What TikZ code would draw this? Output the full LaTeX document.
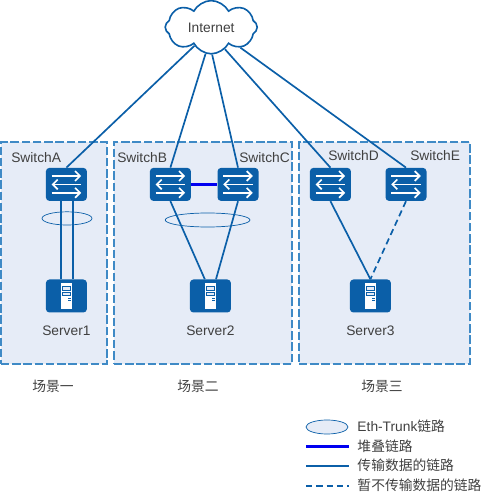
\documentclass[tikz,border=0pt]{standalone}
\usepackage{fontspec}
\setmainfont{Liberation Sans}
\newfontfamily\cjk{Noto Sans CJK SC}
\usetikzlibrary{arrows.meta,positioning,calc,shapes.symbols,shapes.geometric}
\definecolor{NetBlue}{HTML}{0B5FA8}
\definecolor{ZoneBg}{HTML}{E6ECF7}
\definecolor{ZoneEdge}{HTML}{3F8AC6}
\definecolor{StackBlue}{HTML}{0000F0}
\definecolor{TextGrey}{HTML}{404040}

\begin{document}
\begin{tikzpicture}[
  every node/.style={font=\fontsize{9.8}{11}\selectfont, text=TextGrey},
  zone/.style={rectangle, draw=ZoneEdge, fill=ZoneBg, dash pattern=on 6pt off 2pt, line width=0.8pt, inner sep=0pt},
  dev/.style={rectangle, rounded corners=2.5pt, fill=NetBlue, minimum width=1.025cm, minimum height=0.825cm, inner sep=0pt},
  trunk/.style={ellipse, draw=NetBlue, line width=0.5pt, inner sep=0pt},
  link/.style={draw=NetBlue, line width=1.2pt},
  straightlink/.style={draw=NetBlue, line width=1.45pt},
  idle/.style={link, dash pattern=on 4.5pt off 2.8pt},
  stack/.style={draw=StackBlue, line width=1.9pt},
  lbl/.style={inner sep=0pt},
]
\useasboundingbox (0,0) rectangle (12.1,12.4);

%% zones
\node[zone, minimum width=2.65cm, minimum height=5.55cm] (zoneA) at (1.35, 6.075) {};
\node[zone, minimum width=4.45cm, minimum height=5.55cm] (zoneB) at (5.075,6.075) {};
\node[zone, minimum width=4.275cm,minimum height=5.55cm] (zoneC) at (9.6125,6.075) {};

%% cloud
\node[cloud, cloud puffs=8, cloud puff arc=125, aspect=1.75, draw=NetBlue, fill=white, line width=1.15pt,
      minimum width=2.3cm, minimum height=1.33cm, inner sep=0pt] (inet) at (5.28,11.72) {};
\node[lbl] (inetl) at (5.28,11.7) {Internet};

%% switches
\node[dev] (swA) at (1.66, 7.79) {};
\node[dev] (swB) at (4.26, 7.79) {};
\node[dev] (swC) at (5.95, 7.79) {};
\node[dev] (swD) at (8.26, 7.79) {};
\node[dev] (swE) at (10.15,7.79) {};

%% servers
\node[dev] (srvA) at (1.66, 5.0) {};
\node[dev] (srvB) at (5.26, 5.0) {};
\node[dev] (srvC) at (9.26, 5.0) {};

%% icons
\foreach \n in {swA,swB,swC,swD,swE} {
  \begin{scope}[shift={(\n.center)}, white, line width=1.2pt]
    \draw[-{Straight Barb[length=3.5pt,width=7pt]}] (-0.37,0.21) -- (0.37,0.21);
    \draw[{Straight Barb[length=3.5pt,width=7pt]}-] (-0.37,0) -- (0.37,0);
    \draw[-{Straight Barb[length=3.5pt,width=7pt]}] (-0.37,-0.21) -- (0.37,-0.21);
  \end{scope}
}
\foreach \n in {srvA,srvB,srvC} {
  \begin{scope}[shift={(\n.center)}]
    \fill[white] (-0.135,-0.325) rectangle (0.135,0.325);
    \draw[NetBlue, line width=0.5pt, fill=ZoneBg] (-0.11,0.15) rectangle (0.11,0.235);
    \draw[NetBlue, line width=0.5pt, fill=ZoneBg] (-0.11,0.015) rectangle (0.11,0.1);
    \fill[NetBlue] (0.05,-0.085) rectangle (0.11,-0.06);
    \fill[NetBlue] (0.05,-0.135) rectangle (0.11,-0.11);
  \end{scope}
}

%% uplinks
\draw[link] (inet.228) -- (swA.north);
\draw[link] (inet.258) -- (swB.north);
\draw[link] (inet.272) -- (swC.north);
\draw[link] (inet.302) -- (swD.north);
\draw[link] (inet.325) -- (swE.north);

%% downlinks
\draw[straightlink] ([xshift=-0.125cm]swA.south) -- ([xshift=-0.125cm]srvA.north);
\draw[straightlink] ([xshift=0.16cm]swA.south)  -- ([xshift=0.16cm]srvA.north);
\draw[link] (swB.south) -- ([xshift=-0.14cm]srvB.north);
\draw[link] (swC.south) -- ([xshift=0.14cm]srvB.north);
\draw[link] (swD.south) -- (srvC.north);
\draw[idle] (swE.south) -- (srvC.north);
\draw[stack] (swB.east) -- (swC.west);

%% trunks
\node[trunk, minimum width=1.25cm, minimum height=0.33cm] (trkA) at (1.675,6.94) {};
\node[trunk, minimum width=2.12cm, minimum height=0.35cm] (trkB) at (5.19, 6.9) {};

%% labels
\node[lbl, anchor=west] (lblA) at (0.275,8.45) {SwitchA};
\node[lbl, anchor=west] (lblB) at (2.925,8.45) {SwitchB};
\node[lbl, anchor=west] (lblC) at (5.975,8.45) {SwitchC};
\node[lbl, anchor=west] (lblD) at (8.2,  8.5)  {SwitchD};
\node[lbl, anchor=west] (lblE) at (10.25,8.5)  {SwitchE};
\node[lbl] (lblS1) at (1.66, 4.125) {Server1};
\node[lbl] (lblS2) at (5.26, 4.125) {Server2};
\node[lbl] (lblS3) at (9.26, 4.125) {Server3};
\node[lbl] (case1) at (1.325,2.75) {\cjk 场景一};
\node[lbl] (case2) at (4.95, 2.75) {\cjk 场景二};
\node[lbl] (case3) at (9.55, 2.75) {\cjk 场景三};

%% legend
\node[ellipse, draw=NetBlue, fill=ZoneBg, line width=0.5pt, minimum width=1.05cm, minimum height=0.35cm, inner sep=0pt] (keyT) at (8.175,1.725) {};
\coordinate (keyS0) at (7.65,1.23);
\coordinate (keyS1) at (8.72,1.23);
\coordinate (keyL0) at (7.65,0.76);
\coordinate (keyL1) at (8.72,0.76);
\coordinate (keyD0) at (7.65,0.25);
\coordinate (keyD1) at (8.72,0.25);
\draw[stack] (keyS0) -- (keyS1);
\draw[straightlink] (keyL0) -- (keyL1);
\draw[idle] (keyD0) -- (keyD1);
\node[lbl, anchor=west] (keyTl) at (8.93,1.75) {Eth-Trunk{\cjk 链路}};
\node[lbl, anchor=west] (keySl) at (8.93,1.25) {\cjk 堆叠链路};
\node[lbl, anchor=west] (keyLl) at (8.93,0.77) {\cjk 传输数据的链路};
\node[lbl, anchor=west] (keyDl) at (8.93,0.27) {\cjk 暂不传输数据的链路};
\end{tikzpicture}
\end{document}
